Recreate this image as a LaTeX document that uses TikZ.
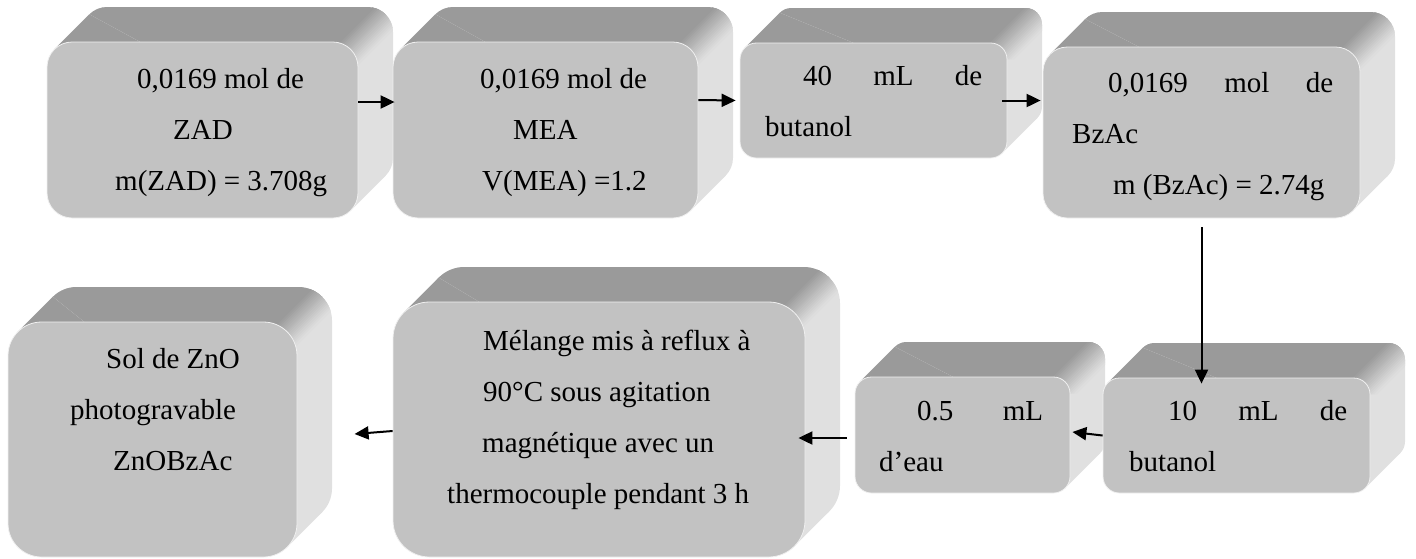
\documentclass[tikz,border=0pt]{standalone}
\usepackage{fontspec}
\setmainfont{Liberation Serif}
\usepackage{tikz}
\usetikzlibrary{arrows.meta, calc}
\definecolor{bevfront}{HTML}{C2C2C2}
\definecolor{bevtop}{HTML}{9A9A9A}
\definecolor{bevside}{HTML}{E0E0E0}
\newcommand{\bdepth}{35}
% dark top face with a soft edge towards the side face
\newcommand{\bevelpaint}[4]{%
  \fill[bevtop, sharp corners] ({#1-10},{#2+\br}) -- ({#3-\br},{#2+\br})
    -- ({#3+\bdepth+10},{#2-\bdepth-10}) -- ({#1-10},{#2-\bdepth-10}) -- cycle;
  \foreach \i [evaluate=\i as \pct using int(100-6*\i),
               evaluate=\i as \off using -20+2.5*\i] in {0,...,16}
    \fill[bevtop!\pct!bevside, sharp corners] ({#3-\br+\off},{#2+\br})
      -- ++({\bdepth+10+\br},{-\bdepth-10-\br}) -- ++(3,0)
      -- ++({-\bdepth-10-\br},{\bdepth+10+\br}) -- cycle;
}
% #1 name, #2 #3 top left and #4 #5 bottom right of the front face
\newcommand{\bevel}[5]{%
  \pgfmathsetmacro{\br}{min(#4-#2,#5-#3)/7}%
  \pgfmathsetmacro{\bt}{0.293*\br}%
  \fill[bevside, rounded corners=\br pt, path picture={\bevelpaint{#2}{#3}{#4}{#5}}]
    ({#2+\bdepth},{#3-\bdepth}) rectangle ({#4+\bdepth},{#5-\bdepth});
  \fill[bevside, path picture={\bevelpaint{#2}{#3}{#4}{#5}}]
    ({#2+\bt},{#3+\bt}) -- ({#2+\bdepth+\bt},{#3-\bdepth+\bt})
    -- ({#4+\bdepth-\bt},{#5-\bdepth-\bt}) -- ({#4-\bt},{#5-\bt}) -- cycle;
  \node[frontface, rounded corners=\br pt, minimum width=#4pt-#2pt,
    minimum height=#5pt-#3pt] (#1) at ({(#2+#4)/2},{(#3+#5)/2}) {};
}

\begin{document}
\begin{tikzpicture}[x=1pt, y=-1pt,
    frontface/.style={fill=bevfront, draw=white!75!bevfront, line width=0.8pt,
      inner sep=0pt},
    txt/.style={anchor=base west, inner sep=0pt, align=justify,
      font=\fontsize{29pt}{51pt}\selectfont},
    arr/.style={-{Triangle[length=14pt,width=13pt]}, line width=2pt}]
  \useasboundingbox (0,0) rectangle (1416,558);

  % top row
  \bevel{zad}{47}{42}{358}{218}
  \bevel{mea}{393}{42}{698}{218}
  \bevel{butA}{740}{43}{1007}{158}
  \bevel{bzac}{1043}{47}{1360}{218}
  % bottom row
  \bevel{sol}{8}{322}{297}{557}
  \bevel{melange}{393}{302}{805}{557}
  \bevel{eau}{855}{377}{1070}{493}
  \bevel{butB}{1103}{378}{1370}{493}

  \node[txt, text width=216pt] (zadtxt) at (115,88)
    {\hspace*{22pt}0,0169 mol de\\ \hspace*{58pt}ZAD\\ m(ZAD) = 3.708g};
  \node[txt, text width=216pt] (meatxt) at (480,88)
    {0,0169 mol de\\ \hspace*{33pt}MEA\\ \hspace*{2pt}V(MEA) =1.2};
  \node[txt, text width=217pt] (butAtxt) at (765,85)
    {\hspace*{38pt}40\hfill mL\hfill de\\ butanol};
  \node[txt, text width=261pt] (bzactxt) at (1072,92)
    {\hspace*{36pt}0,0169\hfill mol\hfill de\\ BzAc\\ \hspace*{41pt}m (BzAc) = 2.74g};
  \node[txt, text width=200pt] (soltxt) at (70,368)
    {\hspace*{36pt}Sol de ZnO\\ photogravable\\ \hspace*{43pt}ZnOBzAc};
  \node[txt, text width=320pt] (melangetxt) at (447,350)
    {\hspace*{36pt}Mélange mis à reflux à\\ \hspace*{36pt}90°C sous agitation\\
     \hspace*{35pt}magnétique avec un\\ thermocouple pendant 3 h};
  \node[txt, text width=164pt] (eautxt) at (879,420)
    {\hspace*{38pt}0.5\hfill mL\\ d’eau};
  \node[txt, text width=218pt] (butBtxt) at (1129,420)
    {\hspace*{39pt}10\hfill mL\hfill de\\ butanol};

  % connectors
  \draw[arr] ([yshift=28pt]zad.east) -- ([xshift=2pt,yshift=28pt]mea.west);
  \draw[arr] ([yshift=30pt]mea.east) -- ([xshift=-4pt]butA.west);
  \draw[arr] ([xshift=-5pt]butA.east) -- ([xshift=-2pt,yshift=32pt]bzac.west);
  \draw[arr] ([yshift=-9pt]bzac.south) -- ($(bzac.south |- butB.north)+(0,6)$);
  \draw[arr] (butB.west) -- ([xshift=2pt,yshift=3pt]eau.east);
  \draw[arr] ([xshift=-8pt,yshift=-3pt]eau.west) -- ([xshift=-7pt,yshift=-8.5pt]melange.east);
  \draw[arr] ([yshift=-1.5pt]melange.west) -- ([xshift=-38pt,yshift=-4.5pt]melange.west);
\end{tikzpicture}
\end{document}
